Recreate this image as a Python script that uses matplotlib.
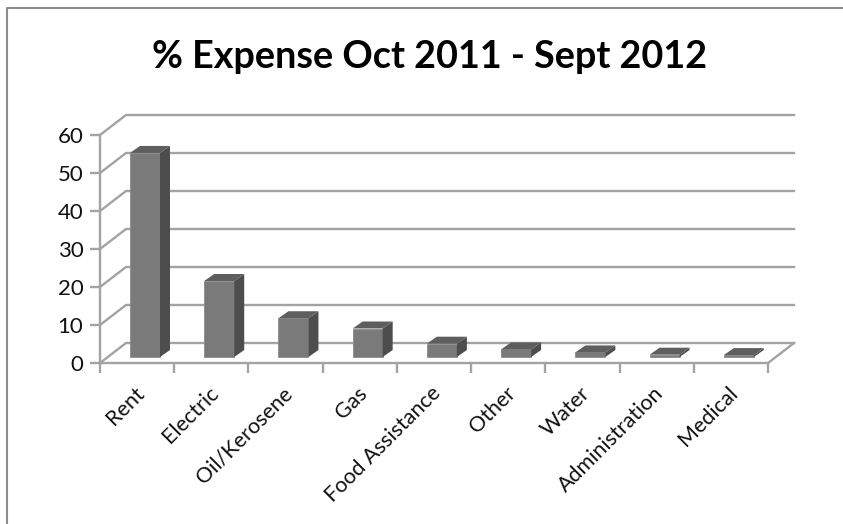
import matplotlib
matplotlib.use('Agg')
import matplotlib.pyplot as plt
import matplotlib.transforms as mtrans
from matplotlib.lines import Line2D

categories = ['Rent', 'Electric', 'Oil/Kerosene', 'Gas', 'Food Assistance',
              'Other', 'Water', 'Administration', 'Medical']
values = [53.7, 20, 10.2, 7.5, 3.5, 2, 1.2, 0.6, 0.5]
y_ticks = [0, 10, 20, 30, 40, 50, 60]

W, H = 843, 524
plt.rcParams['font.family'] = ['Lato', 'DejaVu Sans']
GRID = '#a3a3a3'

fig = plt.figure(figsize=(W / 100, H / 100), dpi=100)

# front plane of the fake 3d box, pixel edges
left, right, top, bottom = 100, 768, 135, 363
ax = fig.add_axes([left / W, 1 - bottom / H, (right - left) / W, (bottom - top) / H])
ax.set_xlim(0, len(categories))
ax.set_ylim(0, 60)
ax.patch.set_visible(False)

px_x = len(categories) / (right - left)
px_y = 60 / (bottom - top)

# depth of the box
dx = 26 * px_x
dy = 20 * px_y

for v in y_ticks:
    ax.plot([0, dx, len(categories) + dx], [v, v + dy, v + dy], color=GRID, lw=1.7,
            clip_on=False, zorder=1, solid_joinstyle='miter')
ax.plot([len(categories), len(categories) + dx], [0, dy], color=GRID, lw=1.7, clip_on=False, zorder=1)

# bars
bar_w = 30 * px_x
bar_dx = 10 * px_x
bar_dy = 7 * px_y
floor = 6 * px_y
for i, v in enumerate(values):
    x0 = i + 30 * px_x
    x1 = x0 + bar_w
    y0 = floor
    y1 = floor + v
    ax.fill([x0, x1, x1, x0], [y0, y0, y1, y1], color='#7a7a7a', ec='#8c8c8c', lw=0.6, zorder=3, clip_on=False)
    ax.fill([x1, x1 + bar_dx, x1 + bar_dx, x1], [y0, y0 + bar_dy, y1 + bar_dy, y1],
            color='#4d4d4d', lw=0, zorder=3, clip_on=False)
    ax.fill([x0, x1, x1 + bar_dx, x0 + bar_dx], [y1, y1, y1 + bar_dy, y1 + bar_dy],
            color='#5e5e5e', lw=0, zorder=3, clip_on=False)

for s in ['top', 'right']:
    ax.spines[s].set_visible(False)
for s in ['left', 'bottom']:
    ax.spines[s].set_color(GRID)
    ax.spines[s].set_linewidth(1.7)
    ax.spines[s].set_zorder(2)

ax.set_yticks(y_ticks)
ax.tick_params(axis='y', length=7, width=1.7, color=GRID, labelsize=16, pad=5, labelcolor='#111111')
ax.set_xticks(range(len(categories) + 1), minor=True)
ax.tick_params(axis='x', which='minor', length=7, width=1.7, color=GRID)
ax.set_xticks([i + 0.5 for i in range(len(categories))])
ax.set_xticklabels(categories)
ax.tick_params(axis='x', which='major', length=0, labelsize=15.5, labelcolor='#111111', pad=0)
off = mtrans.ScaledTranslation(-3 / 100, -20 / 100, fig.dpi_scale_trans)
for t in ax.get_xticklabels():
    t.set_rotation(45)
    t.set_ha('right')
    t.set_va('top')
    t.set_rotation_mode('anchor')
    t.set_transform(t.get_transform() + off)

fig.text(430 / W, 1 - 57 / H, '% Expense Oct 2011 - Sept 2012', ha='center', va='center',
         fontsize=27.2, fontweight='bold', color='black')

# chart border, the screenshot cuts off the right and bottom
fig.add_artist(Line2D([7 / W, 7 / W, 1], [0, 1 - 8 / H, 1 - 8 / H], color='#8c8c8c', lw=1.5,
                      transform=fig.transFigure))

fig.savefig('out.png', dpi=100)
